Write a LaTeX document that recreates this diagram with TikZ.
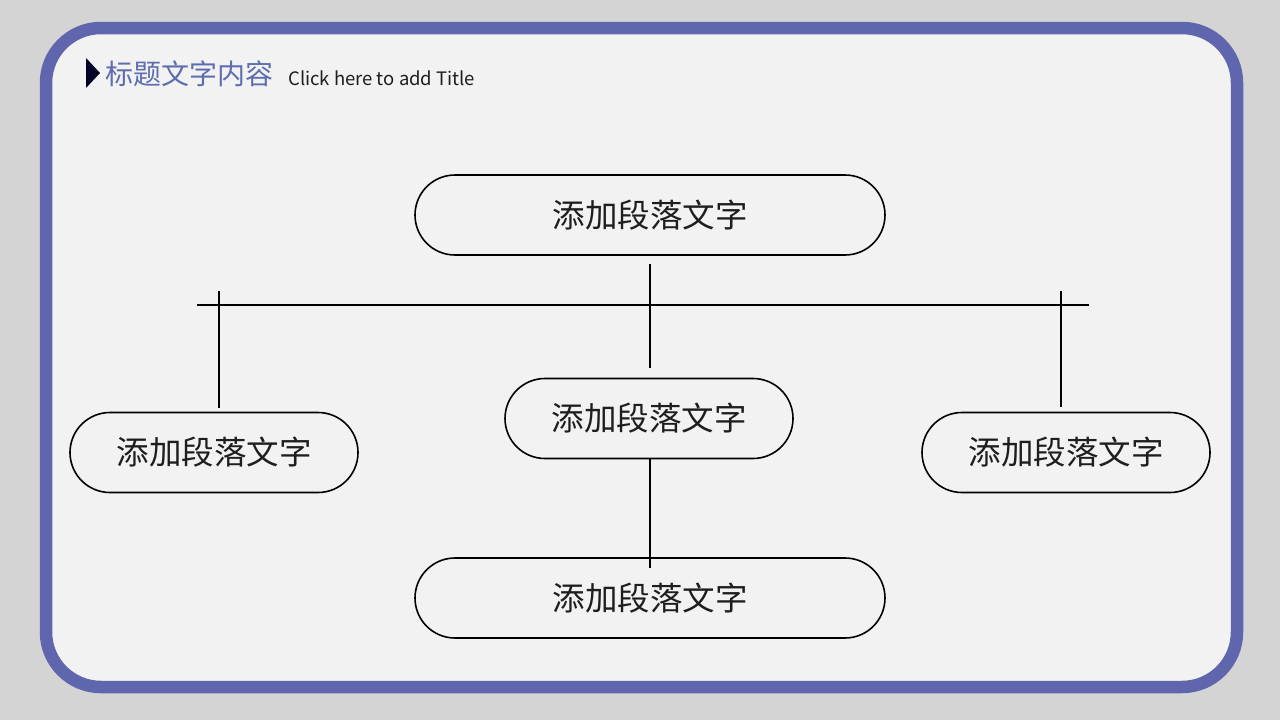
\documentclass[tikz,border=0pt]{standalone}
\usepackage{fontspec}
\newfontfamily\cjk{Noto Sans CJK SC}
\definecolor{frameblue}{HTML}{5F66AE}
\definecolor{titleblue}{HTML}{5D6DB0}
\definecolor{bgout}{HTML}{D4D4D4}
\definecolor{bgin}{HTML}{F2F2F2}
\definecolor{textdark}{HTML}{1E1E1E}
\tikzset{
  pill/.style={draw=black, line width=1.6pt, rounded corners=40pt, minimum height=80pt,
    font=\cjk\fontsize{32.5}{32.5}\selectfont, text=textdark, inner sep=0pt},
  link/.style={draw=black, line width=1.4pt}
}
\begin{document}
\begin{tikzpicture}[x=1pt,y=-1pt]
\useasboundingbox (0,0) rectangle (1280,720);
\fill[bgout] (0,0) rectangle (1280,720);
\fill[bgin, rounded corners=55pt] (46,28) rectangle (1237,687);
\draw[frameblue, line width=12.5pt, rounded corners=55pt] (46,28) rectangle (1237,687);
% title
\fill[black!85!blue] (86,58) -- (100,73) -- (86,88) -- cycle;
\node[anchor=west, inner sep=0pt, font=\cjk\fontsize{28}{28}\selectfont, text=titleblue] (title) at (105,74) {标题文字内容};
\node[anchor=west, inner sep=0pt, font=\cjk\fontsize{18.5}{18.5}\selectfont, text=textdark] (sub) at (288,78) {Click here to add Title};
% boxes
\node[pill, minimum width=470pt] (top) at (650,215) {添加段落文字};
\node[pill, minimum width=288pt] (mid) at (649,418.5) {添加段落文字};
\node[pill, minimum width=288pt] (left) at (214,452.5) {添加段落文字};
\node[pill, minimum width=288pt] (right) at (1066,452.5) {添加段落文字};
\node[pill, minimum width=470pt] (bot) at (650,598) {添加段落文字};
% connectors
\coordinate (hl) at (197,305);
\coordinate (hr) at (1089,305);
\coordinate (ct) at (650,264);
\coordinate (cb) at (650,368);
\coordinate (lt) at (219,291);
\coordinate (lb) at (219,408);
\coordinate (rt) at (1061,291);
\coordinate (rb) at (1061,407);
\coordinate (mt) at (650,458);
\coordinate (mb) at (650,568);
\draw[link] (hl) -- (hr);
\draw[link] (ct) -- (cb);
\draw[link] (lt) -- (lb);
\draw[link] (rt) -- (rb);
\draw[link] (mt) -- (mb);
\end{tikzpicture}
\end{document}
